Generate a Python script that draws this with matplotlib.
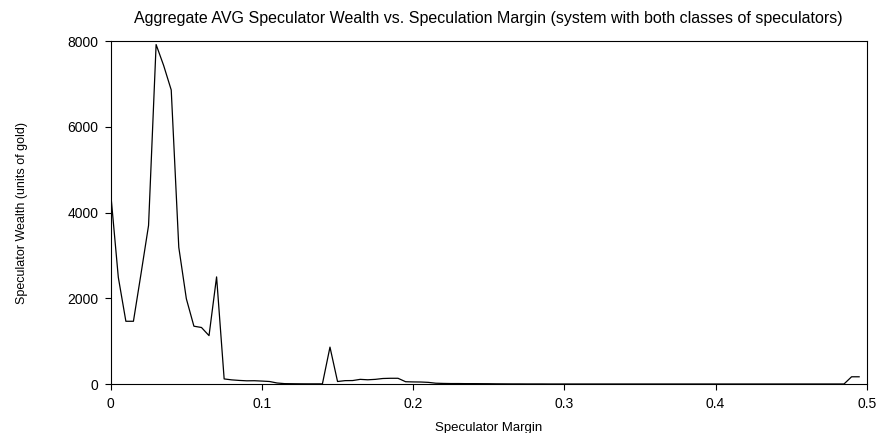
import numpy as np
from matplotlib import pyplot as plt

#############################################
#                  資料                      #
#############################################
# speculation margin, steps of 0.005 from 0 to 0.495
margin = np.round(np.arange(0, 0.4951, 0.005), 3)

# average speculator wealth (units of gold)
wealth = [4440, 2490, 1465, 1465, 2570, 3700, 7920, 7430, 6860, 3190,
          1990, 1350, 1320, 1130, 2500, 120, 98, 85, 76, 78,
          70, 60, 25, 10, 8, 6, 5, 5, 5, 862,
          60, 80, 82, 110, 100, 110, 130, 135, 135, 55,
          50, 48, 40, 20, 15, 12, 12, 10, 10, 9,
          8, 6, 5, 4, 4, 3, 3, 3, 2, 2,
          2, 2, 2, 2, 2, 2, 2, 2, 2, 2,
          2, 2, 2, 2, 2, 2, 2, 2, 2, 2,
          2, 2, 2, 2, 2, 2, 2, 2, 2, 2,
          2, 2, 2, 2, 2, 2, 2, 2, 170, 170]

title = 'Aggregate AVG Speculator Wealth vs. Speculation Margin (system with both classes of speculators)'
xlabel = 'Speculator Margin'
ylabel = 'Speculator Wealth (units of gold)'
xticks = [0, 0.1, 0.2, 0.3, 0.4, 0.5]
xtick_labels = ['0', '0.1', '0.2', '0.3', '0.4', '0.5']
yticks = [0, 2000, 4000, 6000, 8000]

#############################################
#                  畫圖                      #
#############################################
plt.rcParams['font.family'] = ['Liberation Sans', 'DejaVu Sans']

fig = plt.figure(figsize=(8.79, 4.33), dpi=100)
ax = fig.add_axes([0.126, 0.113, 0.86, 0.792])

ax.plot(margin, wealth, color='black', linewidth=0.9)

ax.set_xlim(0, 0.5)
ax.set_ylim(0, 8000)
ax.set_xticks(xticks)
ax.set_xticklabels(xtick_labels)
ax.set_yticks(yticks)
ax.tick_params(axis='both', direction='out', length=4, width=0.8,
               labelsize=10, top=False, right=False, pad=5)
for side in ax.spines.values():
    side.set_linewidth(0.8)

ax.set_title(title, fontsize=11.5, pad=13)
ax.set_xlabel(xlabel, fontsize=9.5, labelpad=8)
ax.set_ylabel(ylabel, fontsize=9, labelpad=28)

fig.savefig('out.png', dpi=100)
